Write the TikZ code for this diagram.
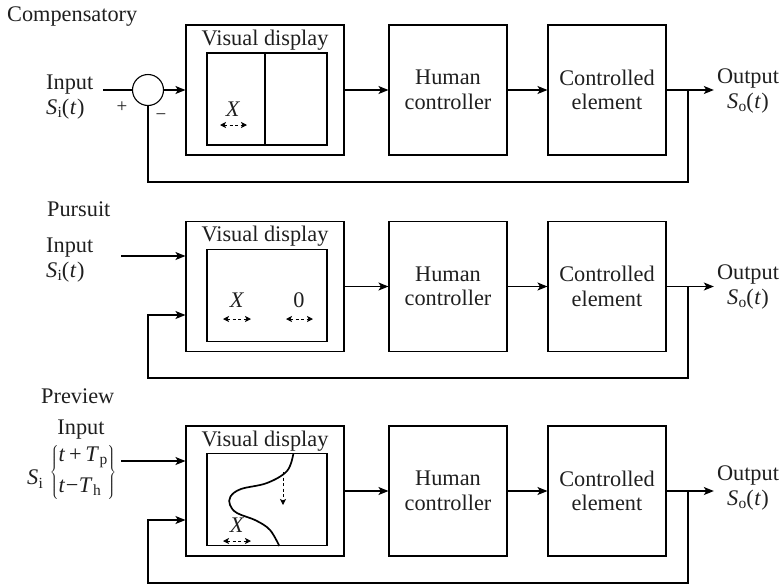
\documentclass[tikz,border=0pt]{standalone}
\usepackage{fix-cm}
\usepackage{fontspec}
\setmainfont{Liberation Serif}
\usetikzlibrary{arrows.meta}
\newcommand\subtx[1]{\raisebox{-0.32ex}{\fontsize{15.5}{15.5}\selectfont #1}}
\newcommand\Sin{\textit{S}\kern0.3pt\subtx{i}(\kern0.5pt\textit{t}\kern0.5pt)}
\newcommand\Sout{\textit{S}\kern0.3pt\subtx{o}(\kern0.5pt\textit{t}\kern0.5pt)}
\begin{document}
\begin{tikzpicture}[x=1pt,y=-1pt,
  every node/.style={font=\fontsize{22.3}{24.5}\selectfont, text=black!88},
  blk/.style={draw, line width=1.1pt, minimum width=118pt, minimum height=130pt, align=center, inner sep=0pt},
  vdbox/.style={draw, line width=1.1pt, minimum width=158pt, minimum height=130pt, inner sep=0pt},
  scr/.style={draw, line width=1.1pt, minimum width=120pt, minimum height=92pt, inner sep=0pt},
  ln/.style={line width=1.1pt},
  arr/.style={line width=1.1pt, -{Stealth[length=10pt,width=8pt,inset=2.5pt]}},
  dda/.style={line width=1pt, dash pattern=on 3pt off 2.5pt, {Stealth[length=6pt,width=6pt,inset=1.5pt]}-{Stealth[length=6pt,width=6pt,inset=1.5pt]}},
  io/.style={align=left, inner sep=2pt},
  oo/.style={align=center, inner sep=3pt},
  sgn/.style={font=\fontsize{19}{20}\selectfont, inner sep=0pt},
  ttl/.style={inner sep=0pt, anchor=west}
]
\useasboundingbox (0,0) rectangle (783,584);
% ---------- Compensatory ----------
\node[ttl] (t1) at (7,17) {Compensatory};
\node[vdbox] (vd1) at (265,90) {};
\node (vdt1) at (265,40) {Visual display};
\node[scr] (sc1) at (267,99) {};
\draw[ln] ([xshift=-2pt]sc1.north) -- ([xshift=-2pt]sc1.south);
\node[blk] (hc1) at (448,90) {Human\\controller};
\node[blk] (ce1) at (607,90) {Controlled\\element};
\node[circle, draw, line width=1.1pt, minimum size=31pt, inner sep=0pt] (sum) at (148,90) {};
\node[io, anchor=west] (in1) at (44,97) {Input\\\Sin};
\node[oo] (out1) at (748,91) {Output\\\Sout};
\node[sgn] (plus) at (122,107) {+};
\node[sgn] (minus) at (161,117) {−};
\node (x1) at (233,109) {\textit{X}};
\draw[dda] (220,125) -- (247,125);
\coordinate (a1) at (103,90);
\coordinate (j1) at (688,90);
\coordinate (b1) at (148,182);
\draw[ln] (a1) -- (sum);
\draw[arr] (sum) -- (vd1);
\draw[arr] (vd1) -- (hc1);
\draw[arr] (hc1) -- (ce1);
\draw[arr] (ce1) -- (ce1 -| out1.west);
\draw[ln] (j1) |- (b1) -- (sum.south);
% ---------- Pursuit ----------
\node[ttl] (t2) at (47,209) {Pursuit};
\node[vdbox] (vd2) at (265,286.5) {};
\node (vdt2) at (265,236) {Visual display};
\node[scr] (sc2) at (267,295.5) {};
\node[blk] (hc2) at (448,286.5) {Human\\controller};
\node[blk] (ce2) at (607,286.5) {Controlled\\element};
\node[io, anchor=west] (in2) at (44,260) {Input\\\Sin};
\node[oo] (out2) at (748,287) {Output\\\Sout};
\node (x2) at (237,300) {\textit{X}};
\draw[dda] (223,319) -- (251,319);
\node (z2) at (299,300) {0};
\draw[dda] (286,319) -- (313,319);
\coordinate (a2) at (121,256);
\coordinate (j2) at (688,286.5);
\coordinate (b2) at (148,378);
\coordinate (c2) at (148,315);
\draw[arr] (a2) -- (a2 -| vd2.west);
\draw[arr] (vd2) -- (hc2);
\draw[arr] (hc2) -- (ce2);
\draw[arr] (ce2) -- (ce2 -| out2.west);
\draw[arr] (j2) |- (b2) -- (c2) -- (c2 -| vd2.west);
% ---------- Preview ----------
\node[ttl] (t3) at (41,396) {Preview};
\node[vdbox] (vd3) at (265,491) {};
\node (vdt3) at (265,441) {Visual display};
\node[scr] (sc3) at (267,499.5) {};
\node[blk] (hc3) at (448,491) {Human\\controller};
\node[blk] (ce3) at (607,491) {Controlled\\element};
\node (in3) at (81,430) {Input};
\node[inner sep=0pt] (br3) at (83,472) {$\left\{\begin{array}{@{}l@{}}\mbox{\textit{t}\,+\,\textit{T}\kern0.5pt\subtx{p}}\\[6pt] \mbox{\textit{t}\kern0.5pt−\kern0.5pt\textit{T}\kern0.5pt\subtx{h}}\end{array}\right\}$};
\node[inner sep=0pt] (s3) at (35,479) {\textit{S}\kern0.3pt\subtx{i}};
\node[oo] (out3) at (748,488) {Output\\\Sout};
\draw[line width=1.7pt] plot[smooth, tension=0.6] coordinates {(293.3,454) (287,471) (267,483) (241,489) (230.5,496.5) (230,505) (237,513) (256,520.5) (270,530) (279.3,546)};
\draw[line width=1pt, dash pattern=on 3pt off 2.5pt, -{Stealth[length=6pt,width=6pt,inset=1.5pt]}] (283,472) -- (283,505);
\node (x3) at (237,525) {\textit{X}};
\draw[dda] (223,541) -- (251,541);
\coordinate (a3) at (121,461);
\coordinate (j3) at (688,491);
\coordinate (b3) at (148,583);
\coordinate (c3) at (148,520);
\draw[arr] (a3) -- (a3 -| vd3.west);
\draw[arr] (vd3) -- (hc3);
\draw[arr] (hc3) -- (ce3);
\draw[arr] (ce3) -- (ce3 -| out3.west);
\draw[arr] (j3) |- (b3) -- (c3) -- (c3 -| vd3.west);
\end{tikzpicture}
\end{document}
